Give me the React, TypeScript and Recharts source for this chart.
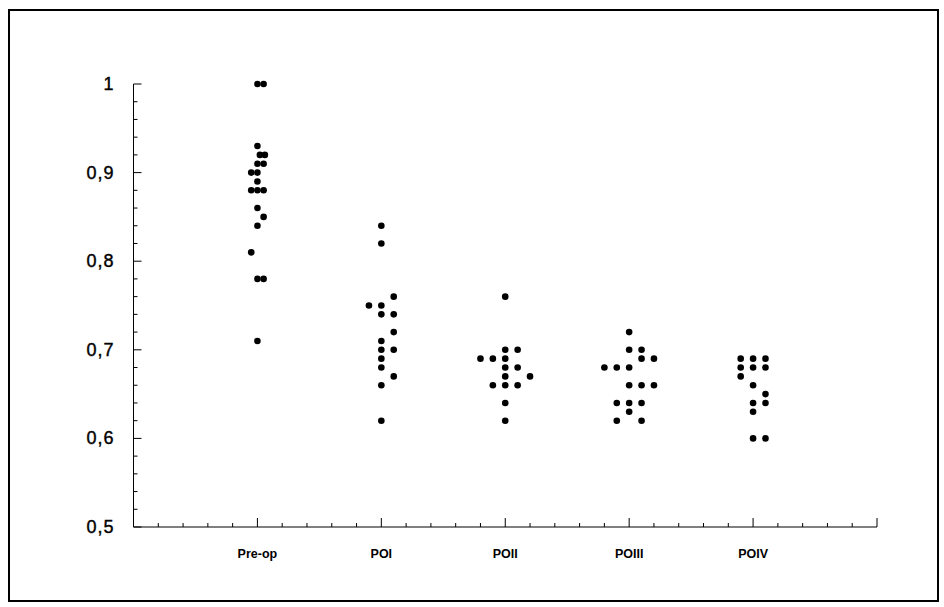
import React from "react";
import { ScatterChart, Scatter, XAxis, YAxis } from "recharts";

const categories = ["Pre-op", "POI", "POII", "POIII", "POIV"];

// each group: measured values and their small horizontal spread (in category units)
const preOpValues = [1.0, 1.0, 0.93, 0.92, 0.92, 0.91, 0.91, 0.9, 0.9, 0.89, 0.88, 0.88, 0.88, 0.86, 0.85, 0.84, 0.81, 0.78, 0.78, 0.71];
const preOpSpread = [0, 0.05, 0, 0.02, 0.06, 0, 0.05, -0.05, 0, 0, -0.05, 0, 0.05, 0, 0.05, 0, -0.05, 0, 0.05, 0];

const poiValues = [0.84, 0.82, 0.76, 0.75, 0.75, 0.74, 0.74, 0.72, 0.71, 0.7, 0.7, 0.69, 0.68, 0.67, 0.66, 0.62];
const poiSpread = [0, 0, 0.1, -0.1, 0, 0, 0.1, 0.1, 0, 0, 0.1, 0, 0, 0.1, 0, 0];

const poiiValues = [0.76, 0.7, 0.7, 0.69, 0.69, 0.69, 0.68, 0.68, 0.67, 0.67, 0.66, 0.66, 0.66, 0.64, 0.62];
const poiiSpread = [0, 0, 0.1, -0.2, -0.1, 0, 0, 0.1, 0, 0.2, -0.1, 0, 0.1, 0, 0];

const poiiiValues = [0.72, 0.7, 0.7, 0.69, 0.69, 0.68, 0.68, 0.68, 0.66, 0.66, 0.66, 0.64, 0.64, 0.64, 0.63, 0.62, 0.62];
const poiiiSpread = [0, 0, 0.1, 0.1, 0.2, -0.2, -0.1, 0, 0, 0.1, 0.2, -0.1, 0, 0.1, 0, -0.1, 0.1];

const poivValues = [0.69, 0.69, 0.69, 0.68, 0.68, 0.68, 0.67, 0.66, 0.65, 0.64, 0.64, 0.63, 0.6, 0.6];
const poivSpread = [-0.1, 0, 0.1, -0.1, 0, 0.1, -0.1, 0, 0.1, 0, 0.1, 0, 0, 0.1];

const groups = [
  { values: preOpValues, spread: preOpSpread },
  { values: poiValues, spread: poiSpread },
  { values: poiiValues, spread: poiiSpread },
  { values: poiiiValues, spread: poiiiSpread },
  { values: poivValues, spread: poivSpread },
];

const points = groups.flatMap((g, gi) =>
  g.values.map((v, i) => ({ x: gi + 1 + g.spread[i], y: v }))
);

const xTicks = Array.from({ length: 31 }, (_, i) => Number((i / 5).toFixed(2)));
const yTicks = Array.from({ length: 26 }, (_, i) => Number((0.5 + i * 0.02).toFixed(2)));

const FONT = "'Liberation Sans', Arial, Helvetica, sans-serif";

const XTick = (props: any) => {
  const { x, y, payload } = props;
  const v = payload.value;
  const major = Math.abs(v - Math.round(v)) < 1e-6;
  const idx = Math.round(v) - 1;
  const label = major && idx >= 0 && idx < categories.length ? categories[idx] : null;
  return (
    <g>
      <line x1={x} x2={x} y1={y} y2={y - (major ? 9 : 4)} stroke="#000" strokeWidth={1} />
      {label && (
        <text x={x} y={y + 31} textAnchor="middle" fontFamily={FONT} fontSize={12.5} fontWeight="bold" fill="#000">
          {label}
        </text>
      )}
    </g>
  );
};

const YTick = (props: any) => {
  const { x, y, payload } = props;
  const v = payload.value;
  const major = Math.abs(v * 10 - Math.round(v * 10)) < 1e-6;
  const label = v === 1 ? "1" : v.toFixed(1).replace(".", ",");
  return (
    <g>
      <line x1={x} x2={x + (major ? 8 : 4)} y1={y} y2={y} stroke="#000" strokeWidth={1} />
      {major && (
        <text
          x={x - 19}
          y={y + 6}
          textAnchor="end"
          fontFamily={FONT}
          fontSize={18}
          fill="#000"
          stroke="#000"
          strokeWidth={0.4}
          letterSpacing={1}
        >
          {label}
        </text>
      )}
    </g>
  );
};

const Dot = (props: any) => {
  const { cx, cy } = props;
  return <circle cx={cx} cy={cy} r={3.3} fill="#000" />;
};

export default function App() {
  return (
    <div style={{ position: "absolute", left: 0, top: 0, width: 944, height: 607, background: "#fff" }}>
      <div
        style={{
          position: "absolute",
          left: 8,
          top: 9,
          width: 927,
          height: 589,
          border: "2px solid #000",
        }}
      />
      <div style={{ position: "absolute", left: 0, top: 0 }}>
        <ScatterChart width={944} height={607} margin={{ left: 0, right: 67, top: 84, bottom: 0 }}>
          <XAxis
            type="number"
            dataKey="x"
            domain={[0, 6]}
            ticks={xTicks}
            interval={0}
            height={80}
            tickSize={0}
            tickMargin={0}
            tickLine={false}
            axisLine={{ stroke: "#000", strokeWidth: 1 }}
            tick={<XTick />}
          />
          <YAxis
            type="number"
            dataKey="y"
            domain={[0.5, 1]}
            ticks={yTicks}
            interval={0}
            width={133.5}
            tickSize={0}
            tickMargin={0}
            tickLine={false}
            axisLine={{ stroke: "#000", strokeWidth: 1 }}
            tick={<YTick />}
          />
          <Scatter data={points} shape={<Dot />} isAnimationActive={false} />
        </ScatterChart>
      </div>
    </div>
  );
}
